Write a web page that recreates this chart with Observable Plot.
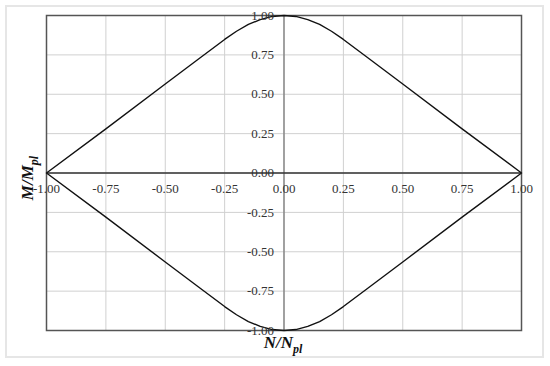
<!DOCTYPE html>
<html>
<head>
<meta charset="utf-8">
<script src="https://cdn.jsdelivr.net/npm/d3@7"></script>
<script src="https://cdn.jsdelivr.net/npm/@observablehq/plot@0.6"></script>
<style>
  html, body { margin: 0; padding: 0; background: #fff; }
  #wrap { position: relative; width: 550px; height: 366px; }
  #outer { position: absolute; left: 5px; top: 5px; width: 535px; height: 349px; border: 2px solid #e6e6e6; }
  #chart { position: absolute; left: 0; top: 0; }
</style>
</head>
<body>
<div id="wrap"><div id="outer"></div><div id="chart"></div></div>
<script>
// Data (N/Npl vs M/Mpl interaction curve)
const nUpper = [-1, -0.75, -0.5, -0.35, -0.25, -0.2, -0.15, -0.1, -0.05, 0, 0.05, 0.1, 0.15, 0.2, 0.25, 0.35, 0.5, 0.75, 1];
const mUpper = [0, 0.28, 0.565, 0.735, 0.848, 0.9, 0.943, 0.974, 0.994, 1, 0.994, 0.974, 0.943, 0.9, 0.848, 0.735, 0.565, 0.28, 0];
const nLower = [1, 0.75, 0.5, 0.35, 0.25, 0.2, 0.15, 0.1, 0.05, 0, -0.05, -0.1, -0.15, -0.2, -0.25, -0.35, -0.5, -0.75, -1];
const mLower = [0, -0.28, -0.565, -0.735, -0.848, -0.9, -0.943, -0.974, -0.994, -1, -0.994, -0.974, -0.943, -0.9, -0.848, -0.735, -0.565, -0.28, 0];
const tickValues = [-1, -0.75, -0.5, -0.25, 0, 0.25, 0.5, 0.75, 1];
const tickLabels = ["-1.00", "-0.75", "-0.50", "-0.25", "0.00", "0.25", "0.50", "0.75", "1.00"];
const xTitle = ["N/N", "pl"];
const yTitle = ["M/M", "pl"];

const curve = [
  ...nUpper.map((n, i) => ({n, m: mUpper[i]})),
  ...nLower.map((n, i) => ({n, m: mLower[i]}))
];
const ticks = tickValues.map((v, i) => ({v, label: tickLabels[i]}));

const chart = Plot.plot({
  width: 550,
  height: 366,
  marginLeft: 46,
  marginRight: 29,
  marginTop: 15,
  marginBottom: 36,
  x: {domain: [-1, 1], axis: null},
  y: {domain: [-1, 1], axis: null},
  style: {fontFamily: "'Liberation Serif', 'Times New Roman', serif", fontSize: "13px", background: "transparent"},
  marks: [
    Plot.gridX(tickValues, {stroke: "#d0d0d0", strokeOpacity: 1, strokeWidth: 1}),
    Plot.gridY(tickValues, {stroke: "#d0d0d0", strokeOpacity: 1, strokeWidth: 1}),
    Plot.ruleX([0], {stroke: "#7a7a7a", strokeWidth: 1.3}),
    Plot.ruleY([0], {stroke: "#333", strokeWidth: 1.3}),
    Plot.frame({stroke: "#555", strokeWidth: 1.5}),
    Plot.line(curve, {x: "n", y: "m", stroke: "#111", strokeWidth: 1.4}),
    Plot.text(ticks, {x: 0, y: "v", text: "label", textAnchor: "end", dx: -10, fill: "#333"}),
    Plot.text(ticks, {x: "v", y: 0, text: "label", dy: 16, fill: "#333"})
  ]
});
document.getElementById("chart").appendChild(chart);

// Axis titles with subscripts
const svg = d3.select(chart);
const tx = svg.append("text")
  .attr("x", 283).attr("y", 348)
  .attr("text-anchor", "middle")
  .style("font-family", "'Liberation Serif', 'Times New Roman', serif")
  .style("font-weight", "bold").style("font-style", "italic")
  .style("font-size", "17px").attr("fill", "#111");
tx.append("tspan").text(xTitle[0]);
tx.append("tspan").attr("dy", 5).style("font-size", "12px").text(xTitle[1]);

const ty = svg.append("text")
  .attr("transform", "translate(33,178) rotate(-90)")
  .attr("text-anchor", "middle")
  .style("font-family", "'Liberation Serif', 'Times New Roman', serif")
  .style("font-weight", "bold").style("font-style", "italic")
  .style("font-size", "17px").attr("fill", "#111");
ty.append("tspan").text(yTitle[0]);
ty.append("tspan").attr("dy", 5).style("font-size", "12px").text(yTitle[1]);
</script>
</body>
</html>
